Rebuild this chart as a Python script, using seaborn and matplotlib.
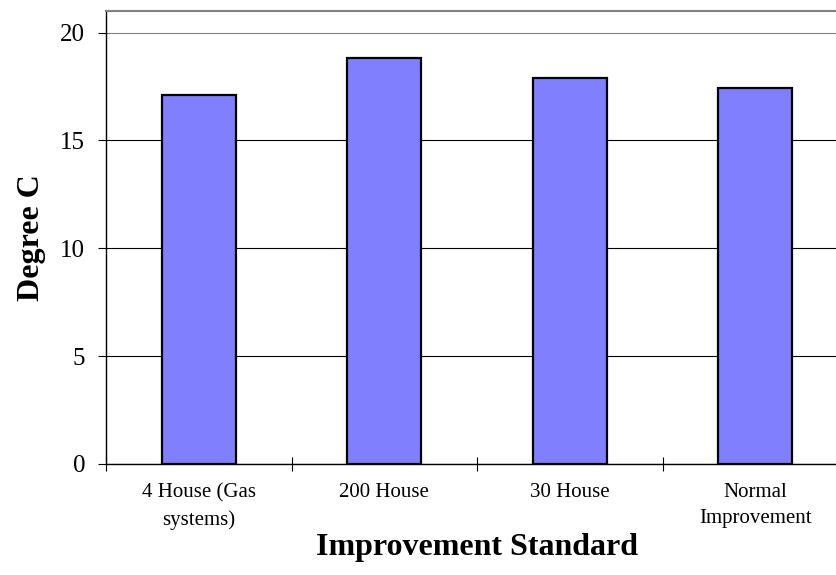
import pandas as pd
from matplotlib import pyplot as plt
import seaborn as sns

# 값
categories = ["4 House (Gas\nsystems)", "200 House", "30 House", "Normal\nImprovement"]
values = [17.12, 18.84, 17.9, 17.43]
y_ticks = [0, 5, 10, 15, 20]

df = pd.DataFrame({"standard": categories, "degree": values})

sns.set_style("white")
plt.rcParams['font.family'] = ['Liberation Serif', 'DejaVu Serif']
plt.rcParams['text.color'] = 'black'
plt.rcParams['axes.labelcolor'] = 'black'
plt.rcParams['xtick.color'] = 'black'
plt.rcParams['ytick.color'] = 'black'

fig = plt.figure(figsize=(8.37, 5.75), dpi=100)
ax = fig.add_axes([106 / 837, 1 - 464 / 575, 742 / 837, 453 / 575])

sns.barplot(ax=ax, data=df, x="standard", y="degree", color="#8080FF",
            saturation=1, width=0.4, edgecolor="black", linewidth=1.6, zorder=3)

ax.set_xlim(-0.5, 3.5)
ax.set_ylim(0, 21)
ax.set_yticks(y_ticks)
ax.set_yticklabels([str(t) for t in y_ticks], fontsize=18)
ax.tick_params(axis="y", direction="out", length=6, width=0.8, color="black", left=True, pad=9)

# 가로 격자선
ax.yaxis.grid(True, color="black", linewidth=0.8, zorder=0)
ax.get_ygridlines()[-1].set_color("grey")
ax.set_axisbelow(True)

# x 축: 눈금은 카테고리 경계에
ax.set_xticks(range(len(categories)))
ax.set_xticklabels(categories, fontsize=15, linespacing=1.5)
ax.tick_params(axis="x", which="major", length=0, pad=14)
ax.set_xticks([-0.5, 0.5, 1.5, 2.5, 3.5], minor=True)
ax.tick_params(axis="x", which="minor", direction="inout", length=10, width=0.8, color="black", bottom=True)

for s in ["left", "bottom"]:
    ax.spines[s].set_color("black")
    ax.spines[s].set_linewidth(1.0)
for s in ["top", "right"]:
    ax.spines[s].set_color("grey")
    ax.spines[s].set_linewidth(1.5)

ax.set_xlabel("Improvement Standard", fontsize=23, fontweight="bold", labelpad=2)
ax.set_ylabel("Degree C", fontsize=23, fontweight="bold", labelpad=10)

fig.savefig("out.png", dpi=100)
